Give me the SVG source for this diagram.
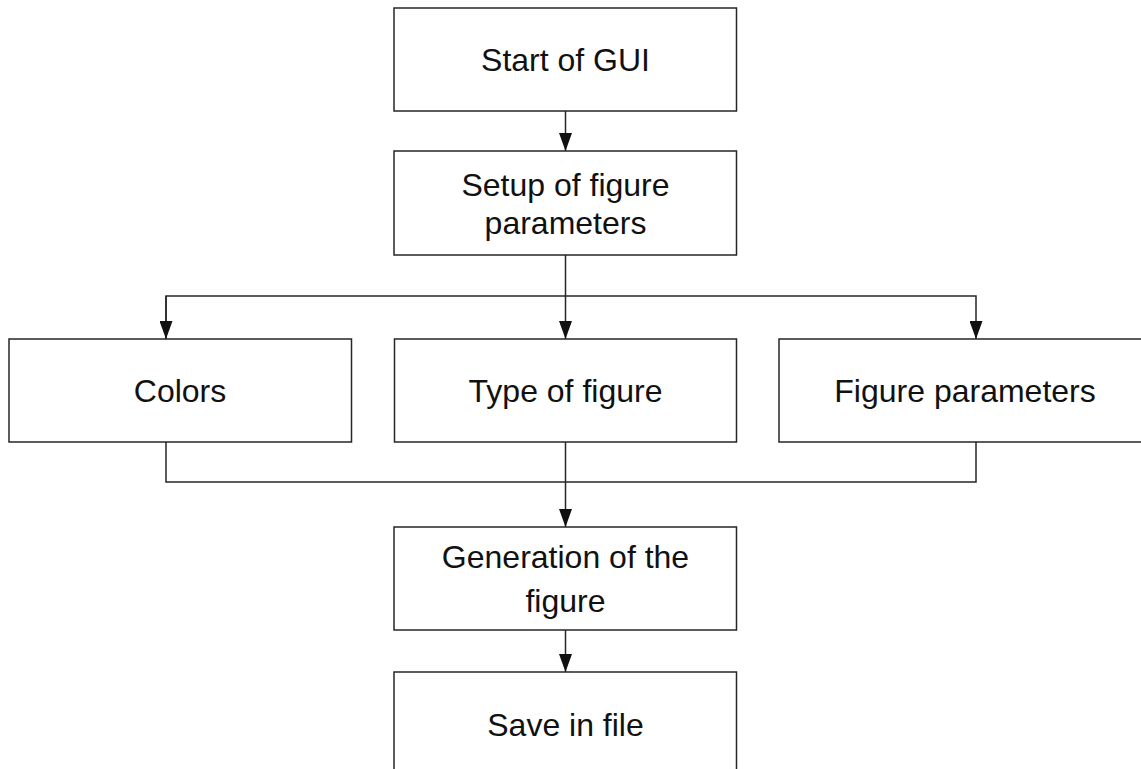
<svg xmlns="http://www.w3.org/2000/svg" width="1141" height="769" viewBox="0 0 1141 769">
<style>
.box{fill:#fff;stroke:#262626;stroke-width:1.5}
.lbl{font-family:"Liberation Sans",Arial,sans-serif;font-size:32px;fill:#111;text-anchor:middle}
.con{fill:none;stroke:#262626;stroke-width:1.5}
</style>
<defs>
<marker id="ah" markerUnits="userSpaceOnUse" markerWidth="18" markerHeight="13" refX="18" refY="6.5" orient="auto" viewBox="0 0 18 13">
<path d="M0,0 L18,6.5 L0,13 Z" fill="#111"/>
</marker>
</defs>
<rect width="1141" height="769" fill="#fff"/>
<g id="connectors">
<path class="con" d="M565.5,111 V151" marker-end="url(#ah)"/>
<path class="con" d="M565.5,255 V339" marker-end="url(#ah)"/>
<path class="con" d="M166,339 V296 H976 V339" marker-end="url(#ah)"/>
<path class="con" d="M166,296 V339" marker-end="url(#ah)"/>
<path class="con" d="M166,442 V482 H976 V442"/>
<path class="con" d="M565.5,442 V527" marker-end="url(#ah)"/>
<path class="con" d="M565.5,630 V672" marker-end="url(#ah)"/>
</g>
<g id="start">
<rect class="box" x="394" y="8" width="342.5" height="103"/>
<text class="lbl" x="565.5" y="71">Start of GUI</text>
</g>
<g id="setup">
<rect class="box" x="394" y="151" width="342.5" height="104"/>
<text class="lbl" x="565.5" y="196">Setup of figure</text>
<text class="lbl" x="565.5" y="234">parameters</text>
</g>
<g id="colors">
<rect class="box" x="9" y="339" width="342.5" height="103"/>
<text class="lbl" x="180" y="402">Colors</text>
</g>
<g id="type">
<rect class="box" x="394.5" y="339" width="342" height="103"/>
<text class="lbl" x="565.5" y="402">Type of figure</text>
</g>
<g id="figparams">
<rect class="box" x="779" y="339" width="380" height="103"/>
<text class="lbl" x="965" y="402">Figure parameters</text>
</g>
<g id="generation">
<rect class="box" x="394" y="527" width="342.5" height="103"/>
<text class="lbl" x="565.5" y="568">Generation of the</text>
<text class="lbl" x="565.5" y="612">figure</text>
</g>
<g id="save">
<rect class="box" x="394" y="672" width="342.5" height="110"/>
<text class="lbl" x="565.5" y="736">Save in file</text>
</g>
</svg>
